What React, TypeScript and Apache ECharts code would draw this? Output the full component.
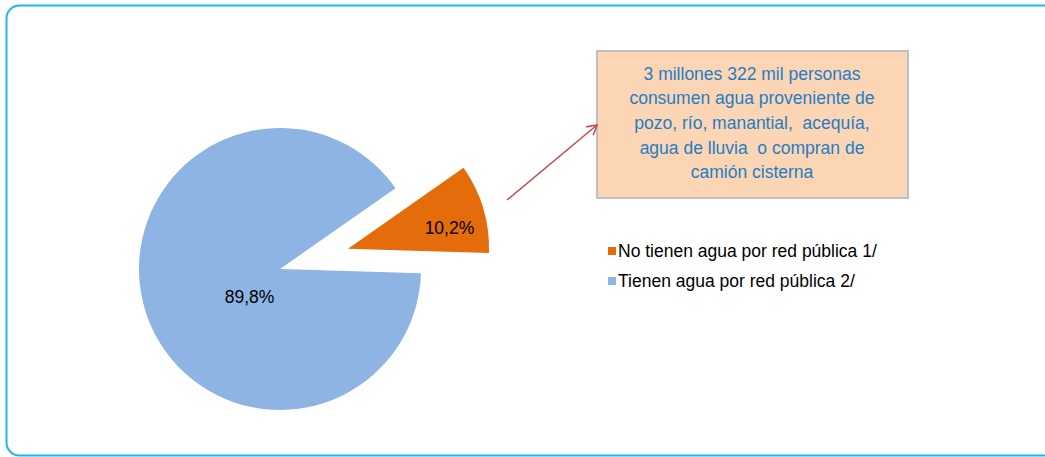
import React, { useEffect, useRef } from "react";
import * as echarts from "echarts";

const categories = ["No tienen agua por red pública 1/", "Tienen agua por red pública 2/"];
const values = [10.2, 89.8];
const labels = ["10,2%", "89,8%"];
const colors = ["#e46c0a", "#8eb4e3"];
const noteLines = [
  "3 millones 322 mil personas",
  "consumen agua proveniente de",
  "pozo, río, manantial,  acequía,",
  "agua de lluvia  o compran de",
  "camión cisterna",
];

export default function App() {
  const ref = useRef<HTMLDivElement>(null);
  useEffect(() => {
    document.body.style.margin = "0";
    const chart = echarts.init(ref.current!, null, { renderer: "svg" });
    const font = "'Liberation Sans', Arial, sans-serif";
    const fs = 17.5;
    const ax0 = 507, ay0 = 200, ax1 = 597, ay1 = 125;
    const len = Math.hypot(ax1 - ax0, ay1 - ay0);
    const ux = (ax1 - ax0) / len, uy = (ay1 - ay0) / len;
    const head = 11, ang = Math.PI / 6;
    const rot = (a: number) => [
      ax1 - head * (ux * Math.cos(a) - uy * Math.sin(a)),
      ay1 - head * (ux * Math.sin(a) + uy * Math.cos(a)),
    ];
    const labelShift = [
      { dx: 31, dy: 0 },
      { dx: 40, dy: 7 },
    ];
    chart.setOption({
      animation: false,
      legend: {
        orient: "vertical",
        left: 603,
        top: 237,
        itemWidth: 8,
        itemHeight: 8,
        itemGap: 12,
        icon: "rect",
        selectedMode: false,
        textStyle: { fontFamily: font, fontSize: fs, color: "#000", padding: [0, 0, 0, -3] },
        data: categories,
      },
      series: [
        {
          type: "pie",
          center: [280, 269],
          radius: 141,
          startAngle: 35,
          clockwise: true,
          selectedMode: "single",
          selectedOffset: 71,
          emphasis: { disabled: true },
          label: {
            show: true,
            position: "inside",
            fontFamily: font,
            fontSize: fs,
            color: "#000",
            formatter: (p: any) => labels[p.dataIndex],
          },
          labelLayout: (p: any) => labelShift[p.dataIndex],
          labelLine: { show: false },
          itemStyle: { borderWidth: 0 },
          data: categories.map((name, i) => ({
            name,
            value: values[i],
            selected: i === 0,
            itemStyle: { color: colors[i] },
          })),
        },
      ],
      graphic: [
        {
          type: "rect",
          shape: { x: 6.5, y: 5.5, width: 1050, height: 450, r: 13 },
          style: { fill: "none", stroke: "#1eb6ee", lineWidth: 2 },
          silent: true,
        },
        {
          type: "rect",
          shape: { x: 597, y: 51, width: 311, height: 147 },
          style: { fill: "#fcd5b5", stroke: "#bfbfbf", lineWidth: 2 },
        },
        {
          type: "text",
          x: 752,
          y: 123,
          style: {
            text: noteLines.join("\n"),
            fontFamily: font,
            fontSize: fs,
            lineHeight: 24.7,
            fill: "#1f7dc6",
            align: "center",
            verticalAlign: "middle",
          },
        },
        {
          type: "line",
          shape: { x1: ax0, y1: ay0, x2: ax1, y2: ay1 },
          style: { stroke: "#c0504d", lineWidth: 1.6 },
        },
        {
          type: "polyline",
          shape: { points: [rot(ang), [ax1, ay1], rot(-ang)] },
          style: { stroke: "#c0504d", lineWidth: 1.6, fill: "none" },
        },
      ],
    });
    return () => chart.dispose();
  }, []);
  return <div ref={ref} style={{ width: 1045, height: 457 }} />;
}
